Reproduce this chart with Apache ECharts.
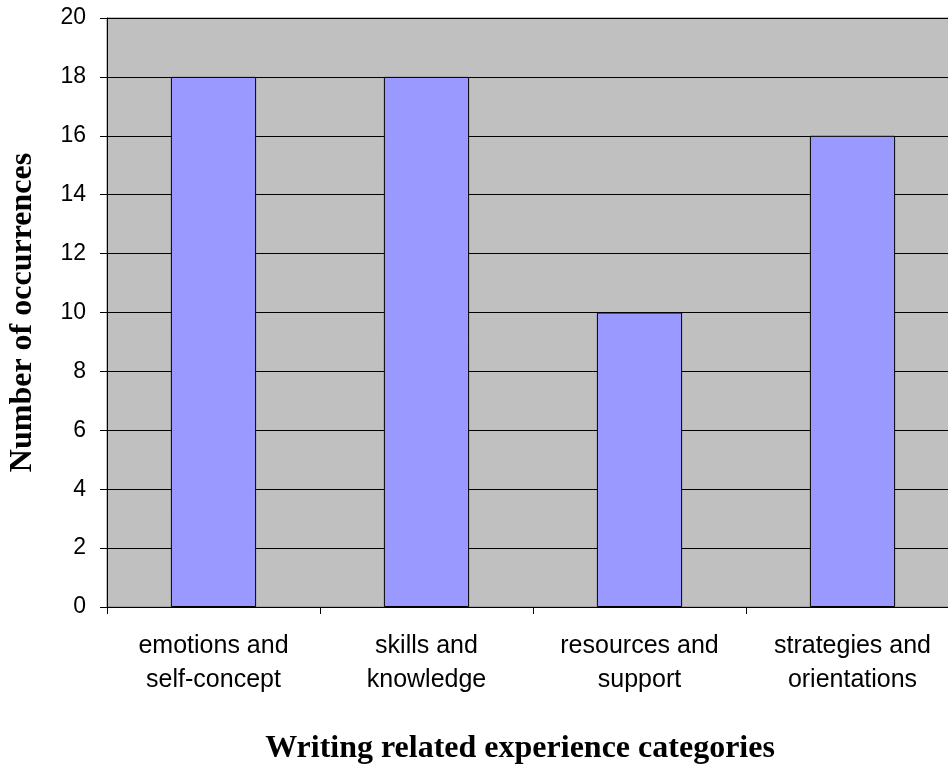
<!DOCTYPE html>
<html>
<head>
<meta charset="utf-8">
<script src="https://cdn.jsdelivr.net/npm/echarts@6/dist/echarts.min.js"></script>
<style>
  html, body { margin: 0; padding: 0; background: #ffffff; }
  #chart { width: 948px; height: 764px; }
</style>
</head>
<body>
<div id="chart"></div>
<script>
// Writing related experience categories and their counts
const categories = [
  'emotions and\nself-concept',
  'skills and\nknowledge',
  'resources and\nsupport',
  'strategies and\norientations'
];
const occurrences = [18, 18, 10, 16];
const yTicks = { min: 0, max: 20, step: 2 };

const chart = echarts.init(document.getElementById('chart'), null, { renderer: 'canvas' });

chart.setOption({
  animation: false,
  backgroundColor: '#ffffff',
  grid: {
    left: 107,
    top: 18,
    width: 852,
    height: 589,
    containLabel: false,
    outerBoundsMode: 'none',
    show: true,
    backgroundColor: '#C0C0C0',
    borderColor: '#808080',
    borderWidth: 1
  },
  xAxis: {
    type: 'category',
    data: categories,
    name: 'Writing related experience categories',
    nameLocation: 'middle',
    nameGap: 126,
    nameTextStyle: {
      fontFamily: 'Liberation Serif',
      fontWeight: 'bold',
      fontSize: 32,
      color: '#000000',
      padding: [0, 26, 0, 0]
    },
    axisLine: { show: true, lineStyle: { color: '#000000', width: 1 } },
    axisTick: { show: true, alignWithLabel: false, length: 7, lineStyle: { color: '#000000' } },
    axisLabel: {
      interval: 0,
      margin: 22,
      fontFamily: 'Liberation Sans',
      fontSize: 25,
      lineHeight: 34,
      color: '#000000'
    },
    splitLine: { show: false }
  },
  yAxis: {
    type: 'value',
    min: yTicks.min,
    max: yTicks.max,
    interval: yTicks.step,
    name: 'Number of occurrences',
    nameLocation: 'middle',
    nameGap: 68,
    nameTextStyle: {
      fontFamily: 'Liberation Serif',
      fontWeight: 'bold',
      fontSize: 32,
      color: '#000000'
    },
    axisLine: { show: true, lineStyle: { color: '#000000', width: 1 } },
    axisTick: { show: true, length: 7, lineStyle: { color: '#000000' } },
    axisLabel: {
      margin: 21,
      fontFamily: 'Liberation Sans',
      fontSize: 23,
      color: '#000000'
    },
    splitLine: { show: true, lineStyle: { color: '#000000', width: 1 } }
  },
  series: [{
    type: 'bar',
    data: occurrences,
    barCategoryGap: '60%',
    itemStyle: {
      color: '#9999FF',
      borderColor: '#000000',
      borderWidth: 1
    }
  }]
});
</script>
</body>
</html>
